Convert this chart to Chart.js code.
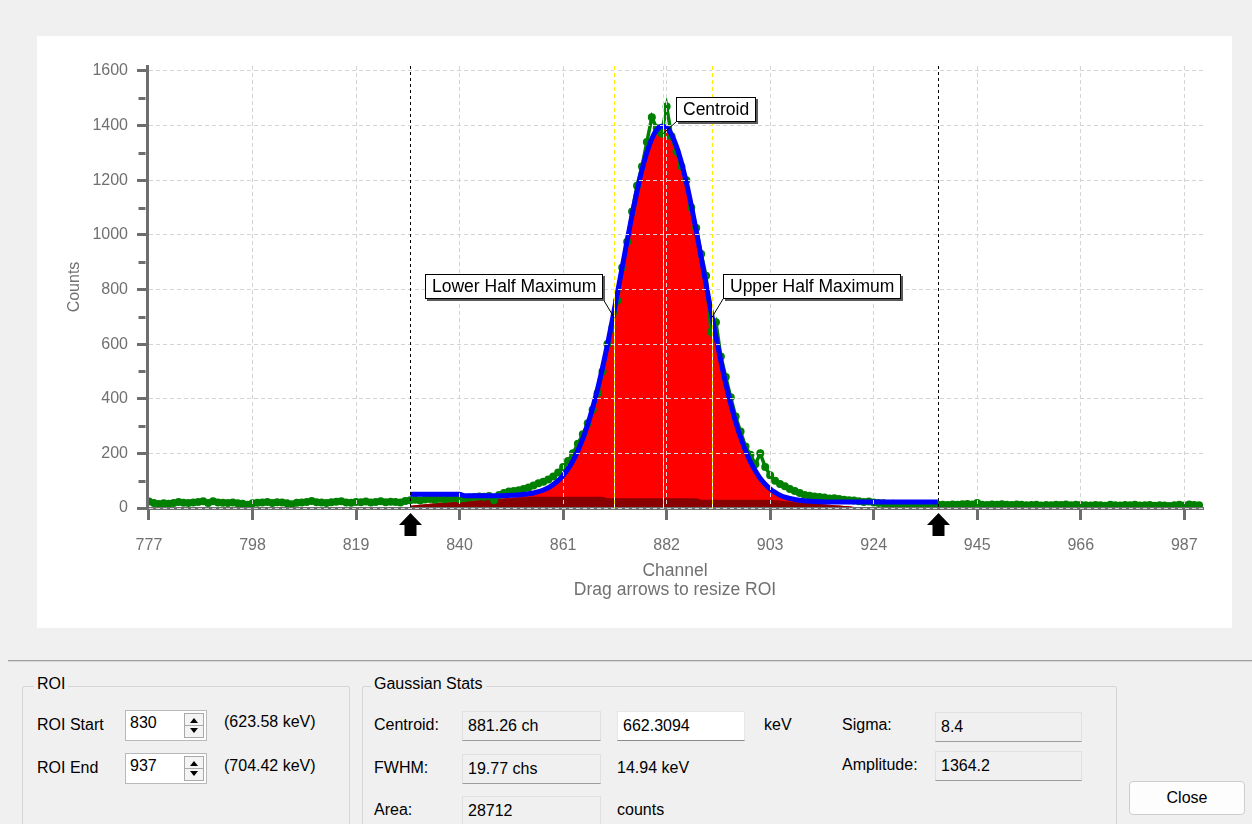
<!DOCTYPE html>
<html>
<head>
<meta charset="utf-8">
<title>ROI - Gaussian Stats</title>
<script src="https://cdn.jsdelivr.net/npm/chart.js@4.4.1/dist/chart.umd.min.js"></script>
<style>
  body {
    margin: 0;
    width: 1252px;
    height: 824px;
    position: relative;
    overflow: hidden;
    background: #f0f0f0;
    font-family: 'Liberation Sans', Arial, sans-serif;
    font-size: 16px;
    color: #000;
  }
  #plotPanel { position: absolute; left: 37px; top: 36px; width: 1195px; height: 592px; background: #fff; }
  #plotPanel canvas { display: block; }
  .sep { position: absolute; left: 8px; top: 660px; width: 1244px; height: 1px; background: #a0a0a0; border-bottom: 1px solid #d8d8d8; }
  .group { position: absolute; top: 686px; height: 150px; border: 1px solid #d5d5d5; border-radius: 2px; }
  .lbl { position: absolute; line-height: 20px; white-space: nowrap; }
  .caption { padding: 0 3px; background: #f0f0f0; }
  .ro, .edit {
    position: absolute;
    height: 30px;
    box-sizing: border-box;
    padding-left: 5px;
    line-height: 28px;
    white-space: nowrap;
    border: 1px solid #e0e0e0;
    border-bottom: 1px solid #9c9c9c;
  }
  .ro { background: #f0f0f0; }
  .edit { background: #fff; border-color: #e6e6e6; border-bottom-color: #8a8a8a; }
  .spin {
    position: absolute;
    left: 125px;
    width: 82px;
    height: 31px;
    box-sizing: border-box;
    background: #fff;
    border: 1px solid #b9b9b9;
    padding-left: 4px;
    line-height: 24px;
  }
  .spin .arrows {
    position: absolute;
    left: 58px;
    top: 2px;
    width: 20px;
    height: 25px;
    box-sizing: border-box;
    border: 1px solid #a9a9a9;
    background: #f4f4f4;
  }
  .spin .arrows::before, .spin .arrows::after {
    content: '';
    position: absolute;
    left: 5px;
    border-left: 4px solid transparent;
    border-right: 4px solid transparent;
  }
  .spin .arrows::before { top: 4px; border-bottom: 5px solid #000; }
  .spin .arrows::after { top: 14px; border-top: 5px solid #000; }
  .spin .arrows i { position: absolute; left: 0; right: 0; top: 11px; height: 1px; background: #a9a9a9; }
  .btn {
    position: absolute;
    left: 1129px;
    top: 781px;
    width: 116px;
    height: 34px;
    box-sizing: border-box;
    background: #fdfdfd;
    border: 1px solid #cdcdcd;
    border-radius: 4px;
    text-align: center;
    line-height: 32px;
  }
</style>
</head>
<body>

<div id="plotPanel"><canvas id="roiChart" width="1195" height="592"></canvas></div>

<div class="sep"></div>

<!-- ROI -->
<div class="group" style="left:22px; width:326px;"></div>
<div class="lbl caption" style="left:34px; top:674px;">ROI</div>
<div class="lbl" style="left:37px; top:715px;">ROI Start</div>
<div class="spin" style="top:710px;">830<div class="arrows"><i></i></div></div>
<div class="lbl" style="left:224px; top:712px;">(623.58 keV)</div>
<div class="lbl" style="left:37px; top:758px;">ROI End</div>
<div class="spin" style="top:753px;">937<div class="arrows"><i></i></div></div>
<div class="lbl" style="left:224px; top:756px;">(704.42 keV)</div>

<!-- Gaussian Stats -->
<div class="group" style="left:362px; width:753px;"></div>
<div class="lbl caption" style="left:371px; top:674px;">Gaussian Stats</div>
<div class="lbl" style="left:374px; top:715px;">Centroid:</div>
<div class="ro" style="left:462px; top:711px; width:139px;">881.26 ch</div>
<div class="edit" style="left:617px; top:711px; width:128px;">662.3094</div>
<div class="lbl" style="left:764px; top:715px;">keV</div>
<div class="lbl" style="left:842px; top:715px;">Sigma:</div>
<div class="ro" style="left:935px; top:712px; width:147px;">8.4</div>
<div class="lbl" style="left:374px; top:758px;">FWHM:</div>
<div class="ro" style="left:462px; top:754px; width:139px;">19.77 chs</div>
<div class="lbl" style="left:617px; top:758px;">14.94 keV</div>
<div class="lbl" style="left:842px; top:755px;">Amplitude:</div>
<div class="ro" style="left:935px; top:751px; width:147px;">1364.2</div>
<div class="lbl" style="left:374px; top:800px;">Area:</div>
<div class="ro" style="left:462px; top:796px; width:139px;">28712</div>
<div class="lbl" style="left:617px; top:800px;">counts</div>

<div class="btn">Close</div>

<script>
/* ========================================
   DADOS
   ======================================== */

// contagens por canal, do canal 777 ao 990
const firstChannel = 777;
const counts = [
  24, 18, 15, 17, 16, 18, 22, 19, 18, 20,
  22, 25, 18, 25, 20, 19, 18, 20, 17, 16,
  12, 17, 19, 20, 22, 18, 21, 20, 17, 14,
  19, 20, 22, 26, 21, 20, 18, 21, 23, 25,
  20, 19, 22, 21, 24, 20, 22, 25, 21, 23,
  22, 20, 26,
  28, 30, 27, 31, 33, 30, 34, 32, 35, 36,
  33, 36, 38, 40, 42, 41, 44, 28, 48, 55,
  60, 62, 65, 70, 75, 82, 91, 96, 104, 115,
  130, 150, 172, 200, 235, 270, 310, 360, 420, 500,
  600, 660, 760, 880, 975, 1085, 1180, 1250, 1340, 1430,
  1390, 1370, 1470, 1360, 1305, 1250, 1200, 1100, 1025, 930,
  850, 645, 680, 555, 480, 405, 335, 280, 225, 195,
  160, 200, 150, 120, 100, 88, 80, 70, 62, 55,
  48, 45, 42, 40, 38, 35, 36, 33, 30, 28,
  27, 25, 22, 24, 20, 18, 17, 15, 16, 14,
  13, 15, 12, 14, 13, 12, 11, 12,
  12, 11, 13, 12, 14, 15, 13, 18, 12, 11,
  13, 12, 14, 12, 11, 13, 12, 10, 11, 12,
  9, 11, 10, 12, 11, 13, 10, 12, 11, 10,
  9, 11, 10, 8, 12, 10, 9, 11, 10, 12,
  9, 10, 11, 8, 10, 9, 7, 10, 12, 9,
  13, 11, 10
];

// ROI: canais 830 a 937
const roiStart = 830;
const roiEnd = 937;

// curva ajustada (azul), um valor por canal da ROI
const fitCounts = [
  50, 50, 50, 50, 50, 50, 50, 50, 50, 50,
  50, 45, 45, 45, 45, 45, 45, 45, 45, 45,
  46, 47, 48, 50, 52, 55, 60, 66, 74, 86,
  100, 119, 143, 173, 210, 254, 306, 367, 436, 514,
  598, 689, 785, 882, 980, 1073, 1160, 1238, 1302, 1352,
  1384, 1397, 1392, 1367, 1324, 1265, 1192, 1108, 1016, 918,
  819, 721, 627, 538, 455, 381, 315, 259, 210, 169,
  136, 108, 87, 70, 57, 47, 40, 35, 31, 28,
  26, 25, 24, 23, 22, 22, 22, 22, 22, 22,
  22, 22, 22, 22, 22, 22, 22, 22, 22, 22,
  22, 22, 22, 22, 22, 22, 22, 22
];

// area do pico (vermelho)
const peakArea = [
  8, 10, 12, 14, 16, 17, 19, 20, 21, 22,
  23, 25, 26, 28, 29, 30, 32, 33, 35, 36,
  37, 39, 41, 44, 47, 51, 56, 62, 71, 82,
  96, 115, 140, 169, 206, 250, 303, 364, 434, 511,
  592, 683, 779, 877, 975, 1069, 1157, 1236, 1301, 1352,
  1385, 1397, 1392, 1371, 1330, 1271, 1199, 1116, 1025, 922,
  824, 726, 632, 544, 462, 388, 323, 266, 217, 177,
  143, 116, 95, 78, 63, 52, 43, 36, 31, 27,
  23, 21, 18, 16, 14, 12, 10, 9, 7, 6,
  4, 3, 1, 0, 0, 0, 0, 0, 0, 0,
  0, 0, 0, 0, 0, 0, 0, 0
];

// fundo sob o pico (vermelho escuro)
const backgroundArea = [
  8, 10, 12, 14, 16, 17, 19, 20, 21, 22,
  23, 25, 26, 28, 29, 30, 32, 33, 34, 35,
  36, 37, 38, 39, 40, 41, 41, 41, 41, 41,
  41, 41, 41, 41, 41, 41, 41, 41, 41, 41,
  36, 36, 36, 36, 36, 36, 36, 36, 36, 36,
  36, 36, 36, 36, 36, 36, 36, 36, 36, 30,
  30, 30, 30, 30, 30, 30, 30, 30, 30, 30,
  30, 30, 30, 30, 28, 27, 25, 24, 22, 21,
  19, 18, 16, 15, 13, 12, 10, 9, 7, 6,
  4, 3, 1, 0, 0, 0, 0, 0, 0, 0,
  0, 0, 0, 0, 0, 0, 0, 0
];

// marcadores
const centroid = 881.26;
const lowerHalfMax = 871.38;
const upperHalfMax = 891.15;
const halfMaxCounts = 696;
const centroidCounts = 1370;

// eixos
const xTicks = [777, 798, 819, 840, 861, 882, 903, 924, 945, 966, 987];
const yTicks = [0, 200, 400, 600, 800, 1000, 1200, 1400, 1600];
const yMinorTicks = [100, 300, 500, 700, 900, 1100, 1300, 1500];

/* ========================================
   ESTILO
   ======================================== */

const fontFamily = "'Liberation Sans', Arial, sans-serif";
const axisColor = '#6e6e6e';
const labelColor = '#707070';
const gridColor = '#d4d4d4';

Chart.defaults.font.family = fontFamily;

function toPoints(values, start) {
  return values.map((v, i) => ({ x: start + i, y: v }));
}

/* ========================================
   DESENHO EXTRA - ROI, MARCADORES, ROTULOS
   ======================================== */

function drawCallout(ctx, text, ax, ay, side, dx, dy) {
  ctx.font = '17.5px ' + fontFamily;
  const w = Math.round(ctx.measureText(text).width) + 14;
  const h = 25;
  const left = Math.round(side === 'right' ? ax + dx : ax - dx - w);
  const top = Math.round(ay - dy - h);
  const cornerX = side === 'right' ? left : left + w;

  // linha de ligação
  ctx.strokeStyle = '#000';
  ctx.lineWidth = 1;
  ctx.setLineDash([]);
  ctx.beginPath();
  ctx.moveTo(cornerX, top + h);
  ctx.lineTo(ax, ay);
  ctx.stroke();

  // sombra + caixa
  ctx.fillStyle = '#5a5a5a';
  ctx.fillRect(left + 2, top + 2, w, h);
  ctx.fillStyle = '#fff';
  ctx.fillRect(left, top, w, h);
  ctx.strokeRect(left + 0.5, top + 0.5, w - 1, h - 1);

  ctx.fillStyle = '#000';
  ctx.textBaseline = 'middle';
  ctx.textAlign = 'left';
  ctx.fillText(text, left + 7, top + h / 2 + 1);
}

function drawArrow(ctx, px, base) {
  ctx.fillStyle = '#000';
  ctx.beginPath();
  ctx.moveTo(px, base + 5);
  ctx.lineTo(px + 11.5, base + 17);
  ctx.lineTo(px + 6, base + 17);
  ctx.lineTo(px + 6, base + 28);
  ctx.lineTo(px - 6, base + 28);
  ctx.lineTo(px - 6, base + 17);
  ctx.lineTo(px - 11.5, base + 17);
  ctx.closePath();
  ctx.fill();
}

const roiOverlay = {
  id: 'roiOverlay',
  afterDraw(chart) {
    const { ctx, chartArea: area, scales: { x, y } } = chart;
    ctx.save();

    // ticks menores do eixo Y
    ctx.strokeStyle = axisColor;
    ctx.lineWidth = 3;
    yMinorTicks.forEach(v => {
      const py = Math.round(y.getPixelForValue(v)) + 0.5;
      ctx.beginPath();
      ctx.moveTo(area.left - 1.5, py);
      ctx.lineTo(area.left - 8.5, py);
      ctx.stroke();
    });

    // linhas amarelas: meia altura e centroide
    ctx.lineWidth = 1;
    [lowerHalfMax, centroid, upperHalfMax].forEach(v => {
      const px = Math.round(x.getPixelForValue(v)) + 0.5;
      ctx.setLineDash([]);
      ctx.strokeStyle = '#ffffff';
      ctx.beginPath();
      ctx.moveTo(px, area.top);
      ctx.lineTo(px, area.bottom);
      ctx.stroke();
      ctx.setLineDash([4, 3]);
      ctx.strokeStyle = '#ffee00';
      ctx.beginPath();
      ctx.moveTo(px, area.top);
      ctx.lineTo(px, area.bottom);
      ctx.stroke();
    });

    // limites da ROI
    ctx.setLineDash([3, 3]);
    ctx.strokeStyle = '#000';
    [roiStart, roiEnd].forEach(v => {
      const px = Math.round(x.getPixelForValue(v)) + 0.5;
      ctx.beginPath();
      ctx.moveTo(px, area.top);
      ctx.lineTo(px, area.bottom);
      ctx.stroke();
      drawArrow(ctx, px, area.bottom);
    });
    ctx.setLineDash([]);

    // rótulos
    drawCallout(ctx, 'Centroid', x.getPixelForValue(centroid), y.getPixelForValue(centroidCounts), 'right', 13, 12);
    drawCallout(ctx, 'Lower Half Maximum', x.getPixelForValue(lowerHalfMax), y.getPixelForValue(halfMaxCounts), 'left', 11, 19);
    drawCallout(ctx, 'Upper Half Maximum', x.getPixelForValue(upperHalfMax), y.getPixelForValue(halfMaxCounts), 'right', 11, 19);

    ctx.restore();
  }
};

/* ========================================
   GRÁFICO
   ======================================== */

function buildChart() {
  const canvas = document.getElementById('roiChart');

  new Chart(canvas, {
    type: 'line',
    data: {
      datasets: [
        {
          label: 'Fit',
          data: toPoints(fitCounts, roiStart),
          borderColor: '#0000ff',
          borderWidth: 5,
          pointRadius: 0,
          cubicInterpolationMode: 'monotone',
          fill: false,
          order: 0
        },
        {
          label: 'Counts',
          data: toPoints(counts, firstChannel),
          borderColor: '#008000',
          backgroundColor: '#008000',
          borderWidth: 3.5,
          pointRadius: 4,
          pointBorderWidth: 0,
          fill: false,
          order: 1
        },
        {
          label: 'Background',
          data: toPoints(backgroundArea, roiStart),
          borderColor: 'rgba(0,0,0,0)',
          borderWidth: 0,
          backgroundColor: '#880000',
          pointRadius: 0,
          fill: 'origin',
          order: 2
        },
        {
          label: 'Peak',
          data: toPoints(peakArea, roiStart),
          borderColor: 'rgba(0,0,0,0)',
          borderWidth: 0,
          backgroundColor: '#ff0000',
          pointRadius: 0,
          fill: 'origin',
          order: 3
        }
      ]
    },
    options: {
      responsive: false,
      animation: false,
      devicePixelRatio: 1,
      layout: {
        padding: { top: 30, right: 29, left: 0, bottom: 0 }
      },
      plugins: {
        legend: { display: false },
        tooltip: { enabled: false }
      },
      scales: {
        x: {
          type: 'linear',
          min: 776.6,
          max: 990.8,
          afterBuildTicks: s => { s.ticks = xTicks.map(v => ({ value: v })); },
          afterFit: s => { s.height = 120; },
          grid: {
            z: 1,
            color: gridColor,
            tickLength: 12,
            tickWidth: 3,
            tickColor: axisColor,
            tickBorderDash: []
          },
          border: { z: 1, color: axisColor, width: 3, dash: [4, 3] },
          ticks: {
            color: labelColor,
            font: { size: 16 },
            padding: 16,
            maxRotation: 0,
            autoSkip: false,
            callback: v => String(v)
          },
          title: {
            display: true,
            text: ['Channel', 'Drag arrows to resize ROI'],
            color: labelColor,
            font: { size: 17.5, lineHeight: 1.1 },
            padding: { top: 0, bottom: 28 }
          }
        },
        y: {
          min: 0,
          max: 1618,
          afterBuildTicks: s => { s.ticks = yTicks.map(v => ({ value: v })); },
          afterFit: s => { s.width = 110; },
          grid: {
            z: 1,
            color: gridColor,
            tickLength: 10,
            tickWidth: 3,
            tickColor: axisColor,
            tickBorderDash: []
          },
          border: { z: 1, color: axisColor, width: 3, dash: [4, 3] },
          ticks: {
            color: labelColor,
            font: { size: 16 },
            padding: 9,
            callback: v => String(v)
          },
          title: {
            display: true,
            text: 'Counts',
            color: labelColor,
            font: { size: 16 },
            padding: { top: 28, bottom: 0 }
          }
        }
      }
    },
    plugins: [roiOverlay]
  });
}

document.addEventListener('DOMContentLoaded', buildChart);
</script>
</body>
</html>
